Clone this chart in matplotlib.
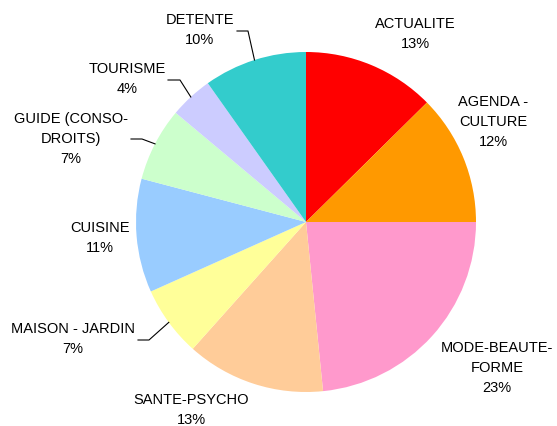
import numpy as np
import matplotlib.pyplot as plt

plt.rcParams['font.family'] = ['Liberation Sans', 'DejaVu Sans']

# data (shares in %, read from the slice boundaries)
categories = ["ACTUALITE", "AGENDA -\nCULTURE", "MODE-BEAUTE-\nFORME", "SANTE-PSYCHO",
              "MAISON - JARDIN", "CUISINE", "GUIDE (CONSO-\nDROITS)", "TOURISME", "DETENTE"]
shares = [12.6, 12.4, 23.4, 13.2, 6.7, 10.8, 7.0, 4.1, 9.8]
colors = ["#FF0000", "#FF9900", "#FF99CC", "#FFCC99", "#FFFF99",
          "#99CCFF", "#CCFFCC", "#CCCCFF", "#33CCCC"]

# layout (pixel coords, y from the top)
W, H = 557, 426
cx, cy, R = 306, 222, 170
label_pos = [(415, 34), (493, 122), (497, 368), (191, 410), (73, 339),
             (100, 238), (71, 139), (127, 79), (200, 30)]
# leader lines: (start x, elbow x, elbow y)
leaders = {4: (138, 149, 340), 6: (131, 142, 139), 7: (168, 180, 80), 8: (237, 248, 31)}

fig = plt.figure(figsize=(W / 100, H / 100), dpi=100)
ax = fig.add_axes([0, 0, 1, 1])

ax.pie(shares, colors=colors, startangle=90, counterclock=False,
       center=(cx, H - cy), radius=R, wedgeprops=dict(linewidth=0))
ax.set_xlim(0, W)
ax.set_ylim(0, H)
ax.set_aspect('equal')
ax.axis('off')

total = sum(shares)
cum = np.cumsum([0] + shares)
for i, (name, v) in enumerate(zip(categories, shares)):
    lx, ly = label_pos[i]
    ax.text(lx, H - ly, "%s\n%d%%" % (name, round(100 * v / total)), ha='center', va='center',
            fontsize=10.5, linespacing=1.58, color='black')
    if i in leaders:
        sx, ex, ey = leaders[i]
        mid = (cum[i] + v / 2) / total * 2 * np.pi
        rx = cx + R * np.sin(mid)
        ry = cy - R * np.cos(mid)
        ax.plot([sx, ex, rx], [H - ey, H - ey, H - ry], color='black', lw=0.8)

fig.savefig("out.png", dpi=100)
